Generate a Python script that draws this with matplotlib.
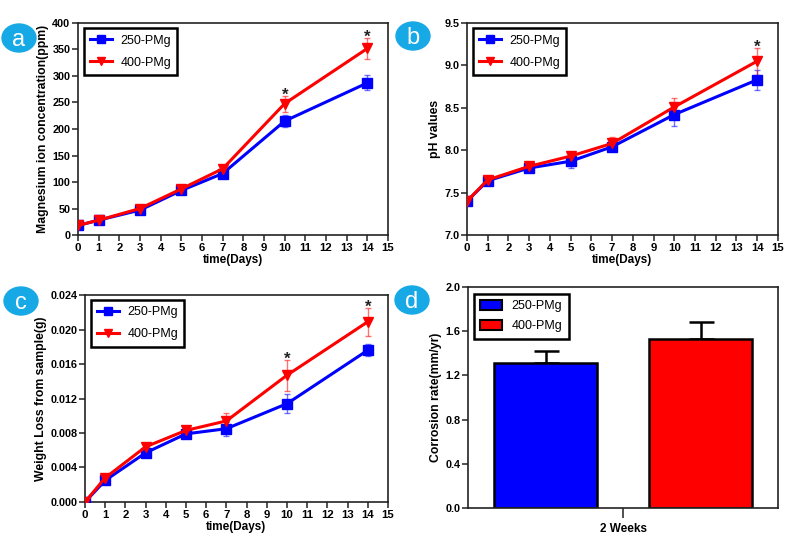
import matplotlib
matplotlib.use("Agg")
import matplotlib.pyplot as plt
from matplotlib.patches import Ellipse, Patch
from matplotlib.lines import Line2D
from matplotlib.ticker import FormatStrFormatter

plt.rcParams["font.family"] = ["Liberation Sans", "DejaVu Sans"]
plt.rcParams["font.weight"] = "bold"

# Data
days = [0, 1, 3, 5, 7, 10, 14]

mg_250 = [18, 28, 47, 84, 116, 215, 287]
mg_250_err = [3, 3, 4, 4, 6, 12, 14]
mg_400 = [18, 28, 50, 87, 125, 248, 352]
mg_400_err = [3, 3, 4, 4, 8, 15, 20]

ph_250 = [7.40, 7.64, 7.79, 7.87, 8.04, 8.42, 8.83]
ph_250_err = [0.02, 0.03, 0.03, 0.08, 0.03, 0.13, 0.12]
ph_400 = [7.40, 7.65, 7.81, 7.93, 8.08, 8.51, 9.05]
ph_400_err = [0.02, 0.02, 0.03, 0.03, 0.07, 0.10, 0.16]

wl_250 = [0.0, 0.0025, 0.0057, 0.0079, 0.0085, 0.0114, 0.0176]
wl_250_err = [0.0001, 0.0003, 0.0003, 0.0003, 0.0008, 0.0011, 0.0007]
wl_400 = [0.0, 0.0028, 0.0064, 0.0083, 0.0094, 0.0147, 0.0209]
wl_400_err = [0.0001, 0.0002, 0.0003, 0.0004, 0.0009, 0.0018, 0.0016]

groups = ["250-PMg", "400-PMg"]
corrosion = [1.31, 1.53]
corrosion_err = [0.11, 0.15]

BLUE = "#0000FF"
RED = "#FF0000"
SPINE = "#222222"
BADGE = "#17A9E6"

fig = plt.figure(figsize=(7.87, 5.41), dpi=100)

ax_a = fig.add_axes([0.0991, 0.5656, 0.394, 0.3919])
ax_b = fig.add_axes([0.5934, 0.5656, 0.395, 0.3919])
ax_c = fig.add_axes([0.108, 0.0721, 0.385, 0.3826])
ax_d = fig.add_axes([0.5947, 0.0610, 0.394, 0.4085])


def style_axes(ax):
    for s in ax.spines.values():
        s.set_color(SPINE)
        s.set_linewidth(1.2)
    ax.tick_params(direction="out", length=4, width=1.1, color=SPINE,
                   labelsize=7.8, pad=1.5)
    ax.tick_params(axis="x", labelsize=8.2)


def add_legend(ax, handles, **kw):
    leg = ax.legend(handles=handles, loc="upper left", borderaxespad=0,
                    fancybox=False, prop={"size": 9, "weight": "normal"},
                    borderpad=0.5, framealpha=1, **kw)
    leg.get_frame().set_edgecolor("black")
    leg.get_frame().set_linewidth(1.8)


def line_panel(ax, y1, e1, y2, e2, ylim, yticks, ylabel, fmt, stars):
    ax.errorbar(days, y1, yerr=e1, color=BLUE, lw=2.2, marker="s", ms=7,
                ecolor=(0, 0, 1, 0.55), elinewidth=1, capsize=2.5, zorder=3)
    ax.errorbar(days, y2, yerr=e2, color=RED, lw=2.2, marker="v", ms=7,
                ecolor=(1, 0, 0, 0.55), elinewidth=1, capsize=2.5, zorder=3)
    ax.set_xlim(0, 15)
    ax.set_xticks(range(16))
    ax.set_ylim(*ylim)
    ax.set_yticks(yticks)
    ax.yaxis.set_major_formatter(FormatStrFormatter(fmt))
    ax.set_xlabel("time(Days)", fontsize=8.5, fontweight="bold", labelpad=1)
    ax.set_ylabel(ylabel, fontsize=8.8, fontweight="bold", labelpad=2)
    style_axes(ax)
    for i in stars:
        ax.annotate("*", (days[i], y2[i] + e2[i]), xytext=(0, -3),
                    textcoords="offset points", ha="center", va="baseline",
                    fontsize=12, color="#222222")
    handles = [
        Line2D([], [], color=BLUE, lw=2.2, marker="s", ms=6, label=groups[0]),
        Line2D([], [], color=RED, lw=2.2, marker="v", ms=6, label=groups[1]),
    ]
    add_legend(ax, handles, bbox_to_anchor=(0.02, 0.975), handlelength=1.7,
               labelspacing=0.8, handletextpad=0.7)


line_panel(ax_a, mg_250, mg_250_err, mg_400, mg_400_err, (0, 400),
           range(0, 401, 50), "Magnesium ion concentration(ppm)", "%d", [5, 6])
line_panel(ax_b, ph_250, ph_250_err, ph_400, ph_400_err, (7.0, 9.5),
           [7.0, 7.5, 8.0, 8.5, 9.0, 9.5], "pH values", "%.1f", [6])
line_panel(ax_c, wl_250, wl_250_err, wl_400, wl_400_err, (0, 0.024),
           [0, 0.004, 0.008, 0.012, 0.016, 0.020, 0.024],
           "Weight Loss from sample(g)", "%.3f", [5, 6])

# Panel d: bars
bar_x = [-0.5, 0.5]
colors = [BLUE, RED]
for x, v, e, c in zip(bar_x, corrosion, corrosion_err, colors):
    ax_d.bar(x, v, width=0.665, color=c, edgecolor="black", linewidth=1.8,
             zorder=2)
    ax_d.errorbar(x, v, yerr=[[0], [e]], color="black", elinewidth=1.8,
                  capsize=9, capthick=1.8, fmt="none", zorder=1)
ax_d.set_xlim(-1, 1)
ax_d.set_ylim(0, 2.0)
ax_d.set_yticks([0.0, 0.4, 0.8, 1.2, 1.6, 2.0])
ax_d.yaxis.set_major_formatter(FormatStrFormatter("%.1f"))
ax_d.set_xticks([0])
ax_d.set_xticklabels(["2 Weeks"])
ax_d.set_ylabel("Corrosion rate(mm/yr)", fontsize=8.8, fontweight="bold",
                labelpad=2)
style_axes(ax_d)
ax_d.tick_params(axis="x", length=7, labelsize=8.5, pad=4)
bar_handles = [Patch(facecolor=c, edgecolor="black", linewidth=1.5, label=g)
               for c, g in zip(colors, groups)]
add_legend(ax_d, bar_handles, bbox_to_anchor=(0.02, 0.97), handlelength=1.7,
           handleheight=0.9, labelspacing=0.6, handletextpad=0.8)

# Panel badges
for letter, cx, cy in [("a", 19, 38), ("b", 413, 36), ("c", 21, 301), ("d", 412, 300)]:
    fx, fy = cx / 787, 1 - cy / 541
    fig.patches.append(Ellipse((fx, fy), 34 / 787, 28 / 541, color=BADGE,
                               transform=fig.transFigure, figure=fig))
    fig.text(fx, fy - 0.003, letter, color="white", fontsize=17,
             fontweight="normal", ha="center", va="center")

fig.savefig("out.png", dpi=100)
